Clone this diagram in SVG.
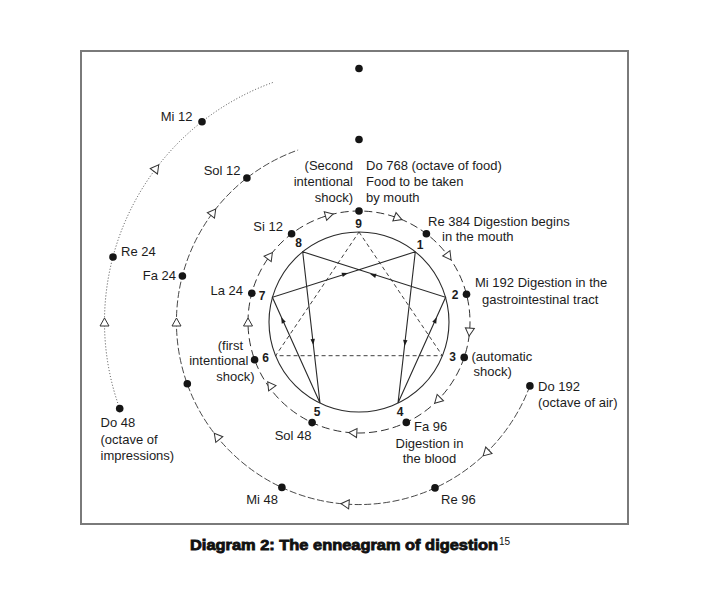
<svg xmlns="http://www.w3.org/2000/svg" xmlns:xlink="http://www.w3.org/1999/xlink" width="710" height="599" viewBox="0 0 710 599">
<style>
.t{font-family:"Liberation Sans",Arial,sans-serif;font-size:13px;fill:#1c1c1c}
.n{font-family:"Liberation Sans",Arial,sans-serif;font-size:12px;font-weight:bold;fill:#1c1c1c;text-anchor:middle}
.e{text-anchor:end}
.m{text-anchor:middle}
.dot{fill:#151515}
.ring{fill:none;stroke:#333;stroke-width:1}
.food{stroke-dasharray:8 4}
.air{stroke-dasharray:7 2.5;stroke-width:0.9}
.imp{stroke-dasharray:1 2;stroke-width:0.9}
.ln{fill:none;stroke:#2a2a2a;stroke-width:1.1}
.dl{fill:none;stroke:#2a2a2a;stroke-width:0.9;stroke-dasharray:4 3}
.oa{fill:#fff;stroke:#333;stroke-width:1}
.fa{fill:#1c1c1c}
.cap{font-family:"Liberation Sans",Arial,sans-serif;font-size:14px;font-weight:bold;fill:#111;stroke:#111;stroke-width:0.8}
</style>
<defs>
<polygon id="oa" class="oa" points="-4,-4.5 4,0 -4,4.5"/>
<polygon id="fa" class="fa" points="-3,-2.2 3,0 -3,2.2"/>
</defs>
<rect x="81" y="51" width="547" height="473" fill="none" stroke="#7a7a7a" stroke-width="2"/>

<g id="connectors">
<path class="ring imp" d="M119.7,408.6 A254.5,254.5 0 0 1 273.6,82.2"/>
<path class="ring air" d="M529.9,385.9 A182.5,182.5 0 1 1 298.1,150.0"/>
<circle class="ring food" cx="359" cy="322" r="111"/>
<circle cx="359" cy="322" r="90" fill="none" stroke="#2a2a2a" stroke-width="1.1"/>
<polyline class="ln" points="415.3,251.8 398,403.1 445.6,297.3 302.7,251.8 320,403.1 272.4,297.3 415.3,251.8"/>
<polygon class="dl" points="359,232 442.4,355.7 275.6,355.7"/>
<use xlink:href="#fa" transform="translate(345,274) rotate(-17.7)"/>
<use xlink:href="#fa" transform="translate(373,275) rotate(197.7)"/>
<use xlink:href="#fa" transform="translate(313,342) rotate(83.5)"/>
<use xlink:href="#fa" transform="translate(405,343) rotate(96.5)"/>
<use xlink:href="#fa" transform="translate(282.5,320) rotate(245.8)"/>
<use xlink:href="#fa" transform="translate(435.5,320) rotate(-65.8)"/>
<use xlink:href="#oa" transform="translate(329.3,215) rotate(-15.5)"/>
<use xlink:href="#oa" transform="translate(398.2,218.2) rotate(20.7)"/>
<use xlink:href="#oa" transform="translate(448.7,256.6) rotate(53.9)"/>
<use xlink:href="#oa" transform="translate(469.5,332.1) rotate(95.2)"/>
<use xlink:href="#oa" transform="translate(437.5,400.5) rotate(135)"/>
<use xlink:href="#oa" transform="translate(352.8,432.8) rotate(183.2)"/>
<use xlink:href="#oa" transform="translate(270,385) rotate(234.7)"/>
<use xlink:href="#oa" transform="translate(248,322) rotate(270)"/>
<use xlink:href="#oa" transform="translate(270,255.7) rotate(-53.3)"/>
<use xlink:href="#oa" transform="translate(486,453.1) rotate(135.9)"/>
<use xlink:href="#oa" transform="translate(345,504) rotate(184.4)"/>
<use xlink:href="#oa" transform="translate(216.8,436.4) rotate(231.2)"/>
<use xlink:href="#oa" transform="translate(176.5,322) rotate(270)"/>
<use xlink:href="#oa" transform="translate(213.3,212.2) rotate(-53)"/>
<use xlink:href="#oa" transform="translate(104.5,322) rotate(270)"/>
<use xlink:href="#oa" transform="translate(156.3,168.1) rotate(-52.8)"/>
</g>

<g id="top-impressions"><circle class="dot" cx="359" cy="68.5" r="3.8"/></g>
<g id="top-air"><circle class="dot" cx="359" cy="139.5" r="3.8"/></g>
<g id="mi12"><circle class="dot" cx="202" cy="121.7" r="3.8"/><text class="t e" x="192.5" y="120.5">Mi 12</text></g>
<g id="re24"><circle class="dot" cx="113" cy="257" r="3.8"/><text class="t" x="121" y="256">Re 24</text></g>
<g id="do48"><circle class="dot" cx="119.7" cy="408.6" r="3.8"/><text class="t" x="100.5" y="427">Do 48</text><text class="t" x="100.5" y="443.5">(octave of</text><text class="t" x="100.5" y="460">impressions)</text></g>

<g id="sol12"><circle class="dot" cx="246.9" cy="178" r="3.8"/><text class="t e" x="240.5" y="174.5">Sol 12</text></g>
<g id="fa24"><circle class="dot" cx="182.4" cy="276" r="3.8"/><text class="t e" x="176" y="280">Fa 24</text></g>
<g id="air-dot"><circle class="dot" cx="187.3" cy="383.8" r="3.8"/></g>
<g id="mi48"><circle class="dot" cx="281.9" cy="487.4" r="3.8"/><text class="t e" x="278" y="504">Mi 48</text></g>
<g id="re96"><circle class="dot" cx="435" cy="487.9" r="3.8"/><text class="t" x="441" y="504">Re 96</text></g>
<g id="do192"><circle class="dot" cx="529.9" cy="385.9" r="3.8"/><text class="t" x="538" y="390.5">Do 192</text><text class="t" x="538" y="407">(octave of air)</text></g>

<g id="p9"><circle class="dot" cx="359" cy="211" r="3.8"/><text class="n" x="358.5" y="228">9</text>
<text class="t e" x="353" y="170">(Second</text><text class="t e" x="353" y="186">intentional</text><text class="t e" x="353" y="202">shock)</text>
<text class="t" x="366" y="170">Do 768 (octave of food)</text><text class="t" x="366" y="186">Food to be taken</text><text class="t" x="366" y="202">by mouth</text></g>
<g id="p1"><circle class="dot" cx="426.4" cy="233.8" r="3.8"/><text class="n" x="420" y="248.5">1</text><text class="t" x="428" y="225.5">Re 384 Digestion begins</text><text class="t" x="442" y="241">in the mouth</text></g>
<g id="p2"><circle class="dot" cx="466.5" cy="294.2" r="3.8"/><text class="n" x="455" y="298.5">2</text><text class="t" x="475" y="287">Mi 192 Digestion in the</text><text class="t" x="482" y="304">gastrointestinal tract</text></g>
<g id="p3"><circle class="dot" cx="464.2" cy="357.4" r="3.8"/><text class="n" x="452.5" y="360.5">3</text><text class="t" x="471.5" y="361">(automatic</text><text class="t" x="473.5" y="376">shock)</text></g>
<g id="p4"><circle class="dot" cx="406.3" cy="422.4" r="3.8"/><text class="n" x="400" y="415.5">4</text><text class="t" x="414" y="431">Fa 96</text><text class="t m" x="429.5" y="448">Digestion in</text><text class="t m" x="429.5" y="463">the blood</text></g>
<g id="p5"><circle class="dot" cx="312.1" cy="422.6" r="3.8"/><text class="n" x="317" y="415.5">5</text><text class="t e" x="311.5" y="440">Sol 48</text></g>
<g id="p6"><circle class="dot" cx="254.6" cy="359.8" r="3.8"/><text class="n" x="265.5" y="361.5">6</text><text class="t e" x="243" y="349.5">(first</text><text class="t e" x="248.5" y="365">intentional</text><text class="t e" x="254.5" y="381">shock)</text></g>
<g id="p7"><circle class="dot" cx="251.8" cy="293.3" r="3.8"/><text class="n" x="262" y="299.5">7</text><text class="t e" x="243" y="294.5">La 24</text></g>
<g id="p8"><circle class="dot" cx="291.6" cy="233.8" r="3.8"/><text class="n" x="298.5" y="247">8</text><text class="t e" x="283" y="230.5">Si 12</text></g>

<text class="cap" x="190" y="550" textLength="308" lengthAdjust="spacingAndGlyphs">Diagram 2: The enneagram of digestion</text>
<text x="499" y="545" font-family="Liberation Sans, Arial, sans-serif" font-size="10" fill="#111">15</text>
</svg>
